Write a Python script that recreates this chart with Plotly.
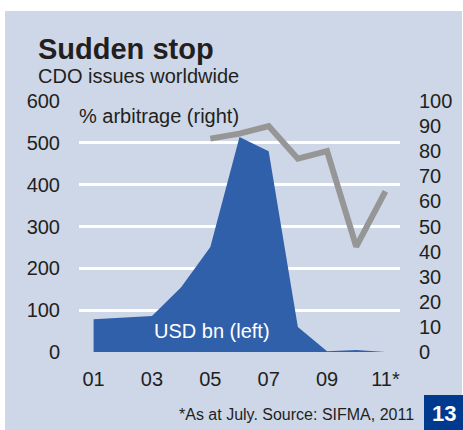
import plotly.graph_objects as go

years = [2001, 2002, 2003, 2004, 2005, 2006, 2007, 2008, 2009, 2010, 2011]
usd_bn = [78, 82, 86, 155, 251, 514, 480, 60, 2, 5, 0]
arb_years = [2005, 2006, 2007, 2008, 2009, 2010, 2011]
arb_pct = [85, 87, 90, 77, 80, 42, 64]
xtick_vals = [2001, 2003, 2005, 2007, 2009, 2011]
xtick_text = ["01", "03", "05", "07", "09", "11*"]

BG = "#CDD7E8"
BLUE = "#3060AA"
GREY = "#969696"
DARK = "#231F20"
FONT = "Liberation Sans, Arial, sans-serif"

W, H = 463, 430
L, R, T, B = 79, 63, 101, 78
PW, PH = W - L - R, H - T - B


def px(x):
    return (x - L) / PW


def py(y):
    return (H - B - y) / PH


fig = go.Figure()
fig.add_trace(go.Scatter(x=years, y=usd_bn, mode="lines", fill="tozeroy",
                         line=dict(color=BLUE, width=0), fillcolor=BLUE,
                         hoverinfo="skip", showlegend=False))
fig.add_trace(go.Scatter(x=arb_years, y=arb_pct, mode="lines", yaxis="y2",
                         line=dict(color=GREY, width=6), showlegend=False))

fig.update_layout(
    width=W, height=H,
    margin=dict(l=L, r=R, t=T, b=B, pad=0),
    paper_bgcolor="white",
    plot_bgcolor="rgba(0,0,0,0)",
    font=dict(family=FONT, color=DARK, size=20),
    xaxis=dict(range=[2000.5, 2011.5], tickvals=xtick_vals, ticktext=xtick_text,
               showgrid=False, zeroline=False, showline=False,
               ticklabelstandoff=13, tickfont=dict(size=20, color=DARK)),
    yaxis=dict(range=[0, 600], dtick=100, showgrid=True, gridcolor="white",
               gridwidth=3, zeroline=False, showline=False,
               ticklabelstandoff=18, tickfont=dict(size=20, color=DARK)),
    yaxis2=dict(range=[0, 100], dtick=10, overlaying="y", side="right",
                showgrid=False, zeroline=False, showline=False,
                ticklabelstandoff=18, tickfont=dict(size=20, color=DARK)),
    shapes=[
        dict(type="rect", xref="paper", yref="paper", layer="below",
             x0=px(5), x1=px(462), y0=py(430), y1=py(11),
             fillcolor=BG, line=dict(width=0)),
        dict(type="rect", xref="paper", yref="paper", layer="above",
             x0=px(424), x1=px(463), y0=py(430), y1=py(395),
             fillcolor="#003A8E", line=dict(width=0)),
    ],
    annotations=[
        dict(text="<b>Sudden stop</b>", xref="paper", yref="paper",
             x=px(36), y=py(49), xanchor="left", yanchor="middle",
             showarrow=False, font=dict(size=29, color=DARK, family=FONT)),
        dict(text="CDO issues worldwide", xref="paper", yref="paper",
             x=px(36), y=py(76), xanchor="left", yanchor="middle",
             showarrow=False, font=dict(size=20, color=DARK, family=FONT)),
        dict(text="% arbitrage (right)", xref="paper", yref="paper",
             x=px(77), y=py(116), xanchor="left", yanchor="middle",
             showarrow=False, font=dict(size=20, color=DARK, family=FONT)),
        dict(text="USD bn (left)", xref="paper", yref="paper",
             x=px(152), y=py(331), xanchor="left", yanchor="middle",
             showarrow=False, font=dict(size=20, color="white", family=FONT)),
        dict(text="*As at July. Source: SIFMA, 2011", xref="paper", yref="paper",
             x=px(416), y=py(414), xanchor="right", yanchor="middle",
             showarrow=False, font=dict(size=16, color=DARK, family=FONT)),
        dict(text="<b>13</b>", xref="paper", yref="paper",
             x=px(443.5), y=py(413), xanchor="center", yanchor="middle",
             showarrow=False, font=dict(size=22, color="white", family=FONT)),
    ],
)

fig.write_html(
    "out.html",
    config={"displayModeBar": False},
    post_script="document.body.style.margin='0';document.body.style.overflow='hidden';",
)
